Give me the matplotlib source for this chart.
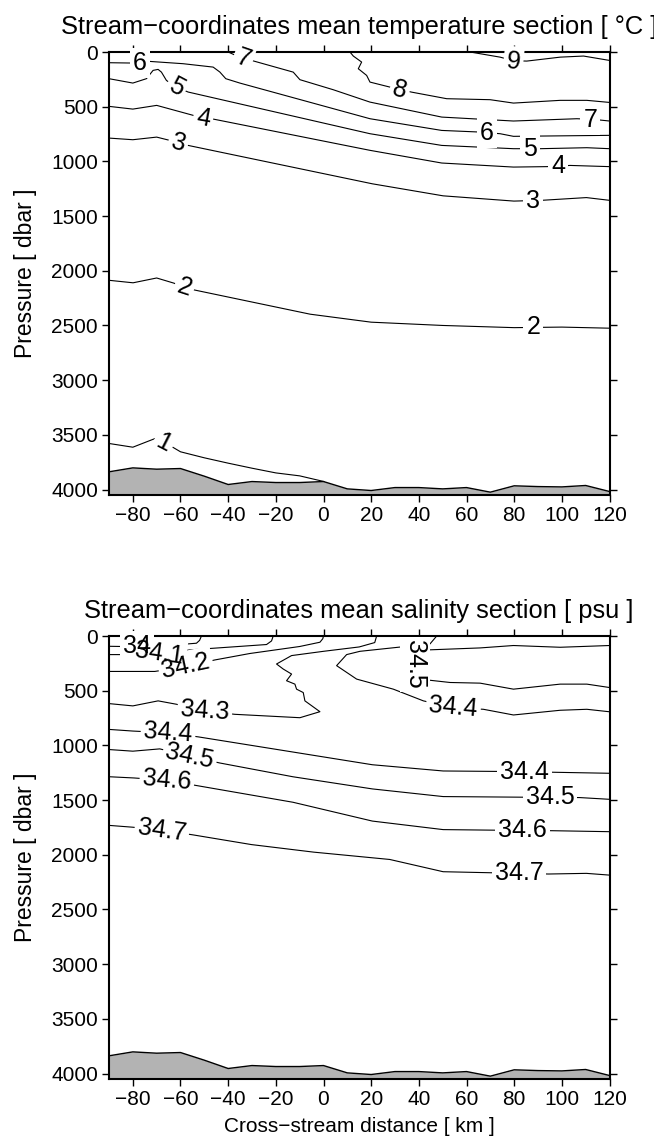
import matplotlib
matplotlib.use('Agg')
import matplotlib.pyplot as plt

plt.rcParams['font.family'] = ['Liberation Sans', 'DejaVu Sans']

# ---------------- data ----------------
bathy_x = [-90, -80, -70, -60, -50, -40, -30, -20, -10, 0, 10, 20, 30, 40, 50, 60, 70, 80, 90, 100, 110, 120]
bathy_p = [3838, 3802, 3814, 3808, 3878, 3954, 3927, 3936, 3936, 3927, 3994, 4009, 3982, 3982, 3994, 3982,
           4024, 3966, 3973, 3976, 3963, 4018]

# temperature isotherms (x km, pressure dbar)
t1_x = [-90, -80, -70.7, -67, -63.5, -60, -50, -40, -30, -20, -10, 0.2]
t1_p = [3579, 3613, 3534, 3565, 3610, 3655, 3710, 3759, 3805, 3848, 3875, 3927]
t2_x = [-89.6, -79.9, -70, -62.8, -58.4, -54.1, -5.6, 20, 50, 80, 100, 120]
t2_p = [2088, 2110, 2066, 2113, 2151, 2176, 2397, 2470, 2500, 2520, 2515, 2525]
t3_x = [-90, -80, -70, -64.5, -61, -56.8, 20.5, 50.2, 79.9, 91.5, 110.3, 120]
t3_p = [787, 802, 778, 808, 835, 854, 1205, 1315, 1363, 1356, 1331, 1356]
t4_x = [-90, -80, -70, -54.7, -50.5, -47, 19.5, 49.6, 79.7, 93.7, 103.5, 120]
t4_p = [497, 522, 488, 579, 600, 610, 899, 1015, 1052, 1048, 1037, 1048]
t5_x = [-90, -80, -74.3, -71.5, -69.4, -68, -65.9, -61.7, -56.8, 19.5, 49.6, 79.7, 90.9, 110.5, 120]
t5_p = [244, 284, 244, 168, 159, 184, 260, 321, 366, 747, 854, 884, 884, 875, 884]
t6_x = [-90, -77, -72.9, -58.9, -46.3, -43.5, -41, -35.1, 19.5, 49.6, 65.7, 74.1, 79.7, 120]
t6_p = [98, 102, 86, 107, 138, 183, 244, 284, 610, 717, 732, 747, 771, 762]
t7_x = [-40, -33.7, -30.2, -12.7, -9.9, 4.1, 19.5, 49.6, 79.7, 106.3, 112, 116, 120]
t7_p = [0, 62, 77, 184, 253, 345, 458, 595, 631, 610, 615, 622, 631]
t8_x = [11.1, 12.5, 16, 14.6, 18.1, 19.5, 27.9, 32, 37, 51.7, 69.9, 79.7, 99.3, 110.5, 120]
t8_p = [0, 37, 92, 153, 214, 275, 321, 342, 367, 427, 436, 467, 442, 442, 461]
t9_x = [61.5, 74.1, 79.7, 85.3, 99.3, 109.1, 120]
t9_p = [0, 47, 80, 83, 47, 37, 77]

temp_label_text = ['1', '2', '2', '3', '3', '4', '4', '5', '5', '6', '6', '7', '7', '8', '9']
temp_label_x = [-67, -58.4, 88, -61, 87.9, -50.5, 98.6, -61.7, 86.7, -77.1, 68.5, -33.7, 112, 32, 79.7]
temp_label_p = [3570, 2151, 2518, 835, 1360, 605, 1046, 321, 890, 102, 740, 62, 619, 345, 85]
temp_label_rot = [-27, -18, 0, -15, 0, -10, 0, -28, 0, 0, 0, -19, 0, -15, -6]

# salinity isohalines
s340_x = [-90, -72.9, -53.3, -52, -51.2]
s340_p = [94, 100, 66, 40, 0]
s341_x = [-90, -69, -56.1, -23.9, -21.8, -21.1]
s341_p = [170, 170, 127, 78, 45, 0]
s342_x = [-90, -70.8, -57.8, -45.6, -30.9, -10, -1.5, -0.3, 0]
s342_p = [324, 324, 280, 219, 160, 96, 57, 25, 0]
s343_x = [-90, -80, -69.4, -61.7, -49.8, -37.2, -9.9, -1.5, -7.8, -8.5, -11.3, -12, -15.5, -13.4, -16.9,
          -19.7, -13.4, 0, 15, 21.5, 22.3]
s343_p = [618, 639, 593, 624, 685, 716, 747, 692, 593, 517, 486, 440, 409, 348, 302, 256, 179, 140, 100, 60, 0]
s344a_x = [47.5, 44.7, 15.3, 9.7, 5.5, 13.9, 29.3, 41.9, 54.5, 67.1, 79.7, 99.3, 110.5, 119.7, 120]
s344a_p = [0, 72, 140, 170, 271, 394, 486, 593, 655, 670, 722, 679, 670, 692, 692]
s345a_x = [120, 99.3, 79.7, 65.7, 44, 39.2, 38.4, 39.2, 44, 53.1, 65.7, 79.7, 99.3, 110.5, 120]
s345a_p = [87, 103, 87, 109, 127, 150, 260, 380, 403, 425, 431, 486, 440, 440, 471]
s344b_x = [-90, -80, -65.2, -52.6, 20.5, 50.2, 84.2, 97.3, 120]
s344b_p = [854, 869, 885, 922, 1177, 1234, 1240, 1246, 1255]
s345c_x = [-90, -80, -68.7, -56.1, -43.5, -12.8, 20.5, 50.2, 91.5, 107.4, 120]
s345c_p = [1038, 1053, 1032, 1099, 1161, 1287, 1398, 1468, 1475, 1477, 1493]
s346_x = [-89.6, -79.4, -65.7, -53.3, -12.8, 20.5, 50.2, 83.5, 95.8, 120]
s346_p = [1287, 1298, 1320, 1367, 1520, 1692, 1770, 1778, 1780, 1789]
s347_x = [-89.6, -80.1, -67.8, -54.8, -30.2, -4.1, 27.8, 50.2, 82, 94.4, 110.3, 120]
s347_p = [1732, 1748, 1775, 1818, 1907, 1976, 2043, 2155, 2170, 2176, 2170, 2186]

sal_label_text = ['34', '34.1', '34.2', '34.3', '34.4', '34.5', '34.4', '34.5', '34.6', '34.7',
                  '34.4', '34.5', '34.6', '34.7']
sal_label_x = [-78.2, -69, -57.8, -49.8, 54.5, 38.4, -65.2, -56.1, -65.7, -67.8, 84.2, 95, 83.5, 82]
sal_label_p = [94, 160, 275, 685, 655, 260, 885, 1099, 1320, 1775, 1240, 1475, 1778, 2170]
sal_label_rot = [0, -8, 12, -4, -5, -90, -4, -12, -5, -8, 0, 0, 0, 0]

xticks = [-80, -60, -40, -20, 0, 20, 40, 60, 80, 100, 120]
yticks = [0, 500, 1000, 1500, 2000, 2500, 3000, 3500, 4000]

temp_lines = [(t1_x, t1_p), (t2_x, t2_p), (t3_x, t3_p), (t4_x, t4_p), (t5_x, t5_p),
              (t6_x, t6_p), (t7_x, t7_p), (t8_x, t8_p), (t9_x, t9_p)]
sal_lines = [(s340_x, s340_p), (s341_x, s341_p), (s342_x, s342_p), (s343_x, s343_p),
             (s344a_x, s344a_p), (s345a_x, s345a_p), (s344b_x, s344b_p),
             (s345c_x, s345c_p), (s346_x, s346_p), (s347_x, s347_p)]

# ---------------- figure ----------------
W, H = 654, 1146
fig = plt.figure(figsize=(W / 100, H / 100), dpi=100)
ax1 = fig.add_axes([109 / W, 1 - 495 / H, 500.5 / W, 443 / H])
ax2 = fig.add_axes([109 / W, 1 - 1079 / H, 500.5 / W, 443 / H])

LBL = 18
TICK = 15


def panel(ax, lines, ltext, lx, lp, lrot, title):
    ax.fill_between(bathy_x, bathy_p, 4100, color='#b3b3b3', lw=0, zorder=1)
    ax.plot(bathy_x, bathy_p, color='black', lw=1.0, zorder=2)
    for xs, ps in lines:
        ax.plot(xs, ps, color='black', lw=0.8, zorder=2)
    # white gaps under labels first, then all label glyphs on top
    for s, x, p, r in zip(ltext, lx, lp, lrot):
        ax.text(x, p, s, rotation=r, rotation_mode='anchor', ha='center', va='center',
                fontsize=LBL, zorder=3, color='none',
                bbox=dict(boxstyle='square,pad=0.12', fc='white', ec='none'))
    for s, x, p, r in zip(ltext, lx, lp, lrot):
        ax.text(x, p, s, rotation=r, rotation_mode='anchor', ha='center', va='center',
                fontsize=LBL, zorder=4, color='black')
    ax.set_xlim(-90, 120)
    ax.set_ylim(4050, 0)
    ax.set_xticks(xticks)
    ax.set_yticks(yticks)
    ax.tick_params(direction='out', length=5, width=1, top=True, right=True,
                   labelsize=TICK, pad=3)
    for sp in ax.spines.values():
        sp.set_linewidth(1.5)
    ax.set_ylabel('Pressure [ dbar ]', fontsize=16.5, labelpad=10)
    ax.set_title(title, fontsize=18.4, pad=13)


panel(ax1, temp_lines, temp_label_text, temp_label_x, temp_label_p, temp_label_rot,
      'Stream\u2212coordinates mean temperature section [ \u00b0C ]')
panel(ax2, sal_lines, sal_label_text, sal_label_x, sal_label_p, sal_label_rot,
      'Stream\u2212coordinates mean salinity section [ psu ]')
ax2.set_xlabel('Cross\u2212stream distance [ km ]', fontsize=15, labelpad=6)

fig.savefig('out.png', dpi=100)
